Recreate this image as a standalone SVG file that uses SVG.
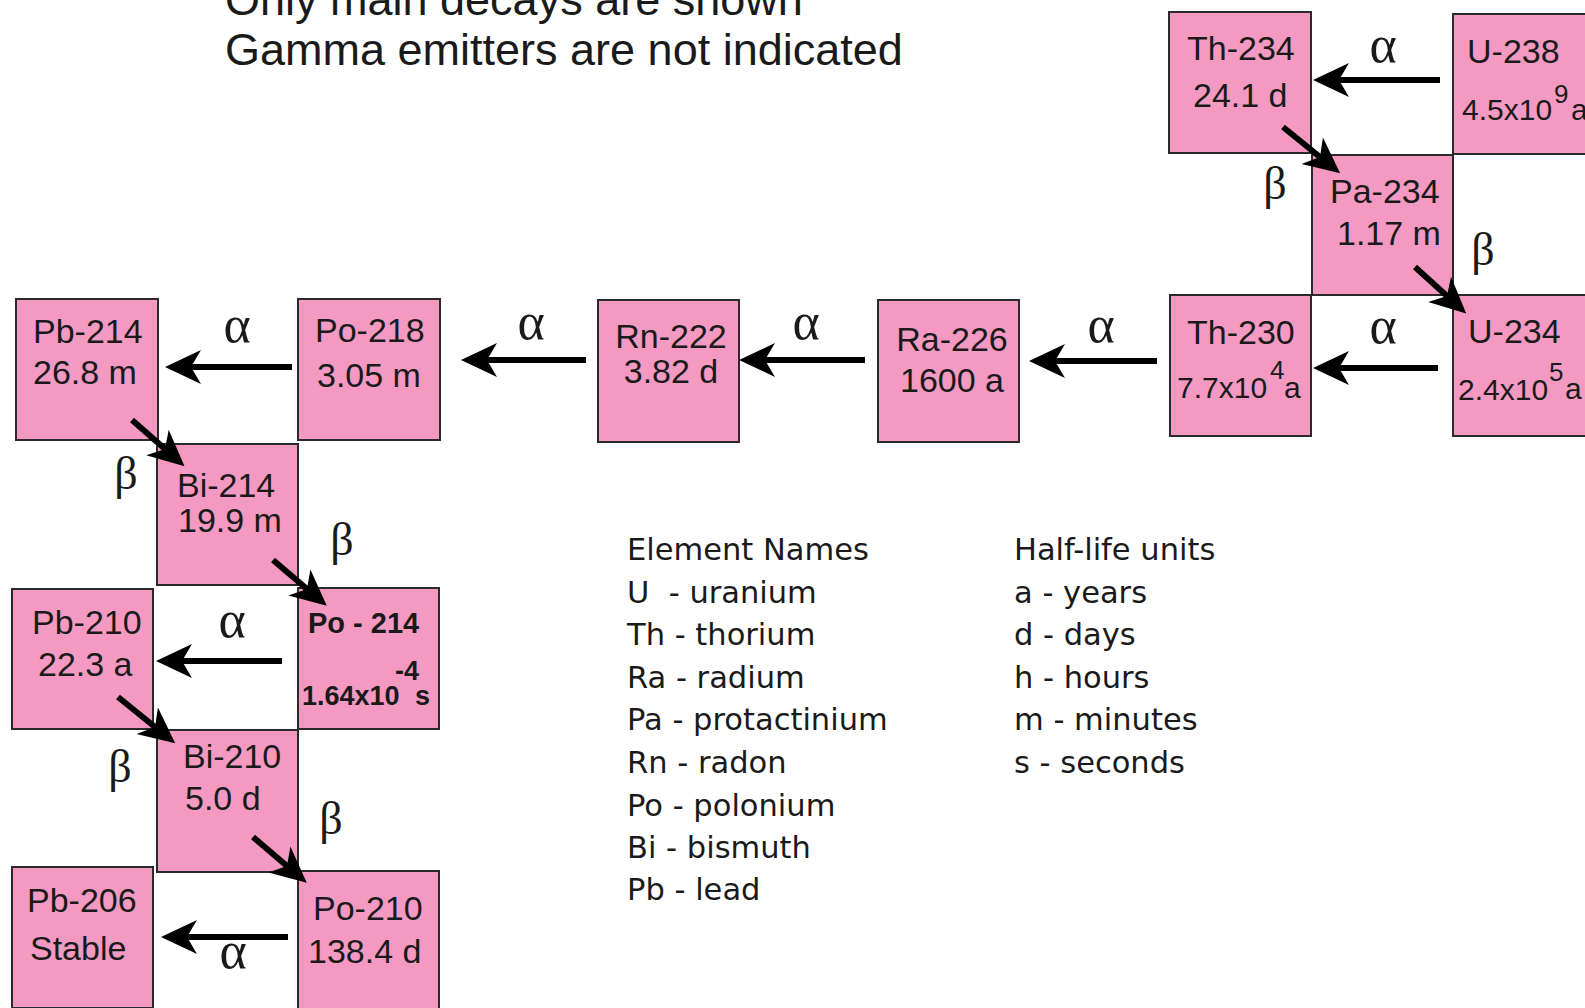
<svg xmlns="http://www.w3.org/2000/svg" width="1585" height="1008" viewBox="0 0 1585 1008">
<style>
.box{fill:#F49AC2;stroke:#2a2a2a;stroke-width:2}
.lbl{font-family:"Liberation Sans",Arial,sans-serif;font-size:34px;fill:#1a1a1a}
.sm{font-family:"Liberation Sans",Arial,sans-serif;font-size:30px;fill:#1a1a1a}
.sup{font-family:"Liberation Sans",Arial,sans-serif;font-size:26px;fill:#1a1a1a}
.bold{font-family:"Liberation Sans",Arial,sans-serif;font-weight:bold;fill:#1a1a1a}
.greek{font-family:"Liberation Serif","Times New Roman",serif;font-size:46px;fill:#1a1a1a;text-anchor:middle}
.alpha{font-size:52px}
.note{font-family:"Liberation Sans",Arial,sans-serif;font-size:45px;fill:#1a1a1a}
.leg{font-family:"DejaVu Sans",Verdana,sans-serif;font-size:30.5px;fill:#1a1a1a}
.arr{stroke:#000;stroke-width:6;fill:none;marker-end:url(#head)}
</style>
<defs>
<marker id="head" markerUnits="userSpaceOnUse" markerWidth="36" markerHeight="36" viewBox="0 0 36 36" refX="10" refY="18" orient="auto">
<path d="M36,18 L0,1 L10,18 L0,35 Z" fill="#000"/>
</marker>
</defs>

<g id="notes">
<text class="note" x="225" y="15">Only main decays are shown</text>
<text class="note" x="225" y="65">Gamma emitters are not indicated</text>
</g>

<g id="U-238">
<rect class="box" x="1453" y="14" width="141" height="140"/>
<text class="lbl" x="1467" y="63">U-238</text>
<text class="sm" x="1462" y="120">4.5x10</text>
<text class="sup" x="1554" y="103">9</text>
<text class="sm" x="1571" y="120">a</text>
</g>
<g id="Th-234">
<rect class="box" x="1169" y="12" width="142" height="141"/>
<text class="lbl" x="1187" y="60">Th-234</text>
<text class="lbl" x="1193" y="107">24.1 d</text>
</g>
<g id="Pa-234">
<rect class="box" x="1312" y="155" width="141" height="140"/>
<text class="lbl" x="1330" y="203">Pa-234</text>
<text class="lbl" x="1337" y="245">1.17 m</text>
</g>
<g id="U-234">
<rect class="box" x="1453" y="295" width="141" height="141"/>
<text class="lbl" x="1468" y="343">U-234</text>
<text class="sm" x="1458" y="400">2.4x10</text>
<text class="sup" x="1549" y="381">5</text>
<text class="sm" x="1565" y="399">a</text>
</g>
<g id="Th-230">
<rect class="box" x="1170" y="295" width="141" height="141"/>
<text class="lbl" x="1187" y="344">Th-230</text>
<text class="sm" x="1177" y="398">7.7x10</text>
<text class="sup" x="1270" y="379">4</text>
<text class="sm" x="1284" y="398">a</text>
</g>
<g id="Ra-226">
<rect class="box" x="878" y="300" width="141" height="142"/>
<text class="lbl" x="952" y="351" text-anchor="middle">Ra-226</text>
<text class="lbl" x="952" y="392" text-anchor="middle">1600 a</text>
</g>
<g id="Rn-222">
<rect class="box" x="598" y="300" width="141" height="142"/>
<text class="lbl" x="671" y="348" text-anchor="middle">Rn-222</text>
<text class="lbl" x="671" y="383" text-anchor="middle">3.82 d</text>
</g>
<g id="Po-218">
<rect class="box" x="298" y="299" width="142" height="141"/>
<text class="lbl" x="315" y="342">Po-218</text>
<text class="lbl" x="317" y="387">3.05 m</text>
</g>
<g id="Pb-214">
<rect class="box" x="16" y="299" width="142" height="141"/>
<text class="lbl" x="33" y="343">Pb-214</text>
<text class="lbl" x="33" y="384">26.8 m</text>
</g>
<g id="Bi-214">
<rect class="box" x="157" y="444" width="141" height="141"/>
<text class="lbl" x="177" y="497">Bi-214</text>
<text class="lbl" x="178" y="532">19.9 m</text>
</g>
<g id="Po-214">
<rect class="box" x="298" y="588" width="141" height="141"/>
<text class="bold" x="308" y="633" font-size="29" xml:space="preserve">Po - 214</text>
<text class="bold" x="419" y="680" font-size="27" text-anchor="end">-4</text>
<text class="bold" x="302" y="705" font-size="27">1.64x10<tspan x="415">s</tspan></text>
</g>
<g id="Pb-210">
<rect class="box" x="12" y="589" width="141" height="140"/>
<text class="lbl" x="32" y="634">Pb-210</text>
<text class="lbl" x="38" y="676">22.3 a</text>
</g>
<g id="Bi-210">
<rect class="box" x="157" y="730" width="141" height="142"/>
<text class="lbl" x="183" y="768">Bi-210</text>
<text class="lbl" x="185" y="810">5.0 d</text>
</g>
<g id="Pb-206">
<rect class="box" x="12" y="867" width="141" height="141"/>
<text class="lbl" x="27" y="912">Pb-206</text>
<text class="lbl" x="30" y="960">Stable</text>
</g>
<g id="Po-210">
<rect class="box" x="298" y="871" width="141" height="141"/>
<text class="lbl" x="313" y="920">Po-210</text>
<text class="lbl" x="308" y="963">138.4 d</text>
</g>

<g id="connectors">
<line class="arr" x1="1440" y1="80" x2="1339" y2="80"/>
<line class="arr" x1="1438" y1="368" x2="1339" y2="368"/>
<line class="arr" x1="1157" y1="361" x2="1055" y2="361"/>
<line class="arr" x1="865" y1="360" x2="765" y2="360"/>
<line class="arr" x1="586" y1="360" x2="487" y2="360"/>
<line class="arr" x1="292" y1="367" x2="191" y2="367"/>
<line class="arr" x1="282" y1="661" x2="182" y2="661"/>
<line class="arr" x1="288" y1="937" x2="187" y2="937"/>
<line class="arr" x1="1283" y1="127" x2="1320" y2="157"/>
<line class="arr" x1="1415" y1="267" x2="1447" y2="296"/>
<line class="arr" x1="132" y1="420" x2="165" y2="449"/>
<line class="arr" x1="273" y1="560" x2="307" y2="589"/>
<line class="arr" x1="118" y1="697" x2="155" y2="727"/>
<line class="arr" x1="253" y1="837" x2="287" y2="866"/>
<text class="greek alpha" x="1383" y="62">α</text>
<text class="greek alpha" x="1383" y="343">α</text>
<text class="greek alpha" x="1101" y="342">α</text>
<text class="greek alpha" x="806" y="339">α</text>
<text class="greek alpha" x="531" y="339">α</text>
<text class="greek alpha" x="237" y="342">α</text>
<text class="greek alpha" x="232" y="637">α</text>
<text class="greek alpha" x="233" y="968">α</text>
<text class="greek" x="1275" y="199">β</text>
<text class="greek" x="1483" y="265">β</text>
<text class="greek" x="126" y="489">β</text>
<text class="greek" x="342" y="555">β</text>
<text class="greek" x="120" y="782">β</text>
<text class="greek" x="331" y="834">β</text>
</g>

<g id="legend-elements">
<text class="leg" x="627" y="560">Element Names</text>
<text class="leg" x="627" y="603" xml:space="preserve">U  - uranium</text>
<text class="leg" x="627" y="645">Th - thorium</text>
<text class="leg" x="627" y="688">Ra - radium</text>
<text class="leg" x="627" y="730">Pa - protactinium</text>
<text class="leg" x="627" y="773">Rn - radon</text>
<text class="leg" x="627" y="816">Po - polonium</text>
<text class="leg" x="627" y="858">Bi - bismuth</text>
<text class="leg" x="627" y="900">Pb - lead</text>
</g>
<g id="legend-units">
<text class="leg" x="1014" y="560">Half-life units</text>
<text class="leg" x="1014" y="603">a - years</text>
<text class="leg" x="1014" y="645">d - days</text>
<text class="leg" x="1014" y="688">h - hours</text>
<text class="leg" x="1014" y="730">m - minutes</text>
<text class="leg" x="1014" y="773">s - seconds</text>
</g>
</svg>
